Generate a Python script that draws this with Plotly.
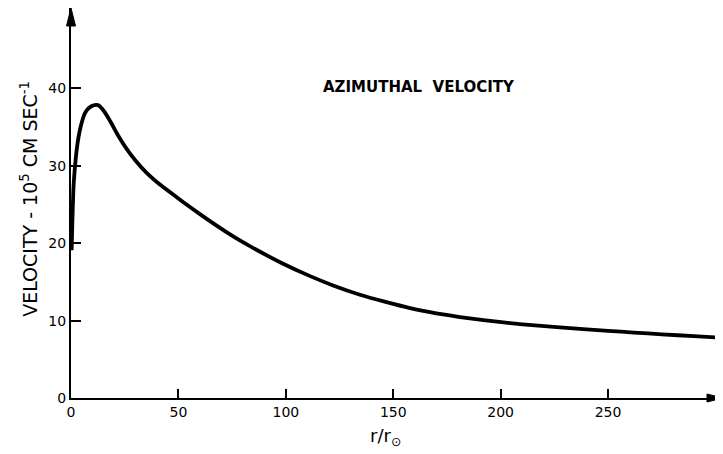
import plotly.graph_objects as go

# Data (r/r_sun, azimuthal velocity in 10^5 cm/s)
r_vals = [0.3, 0.6, 1.1, 1.7, 2.3, 3.2, 4.2, 5.3, 6.5, 8.0, 9.5, 11.0, 12.5,
          13.8, 15.5, 18.2, 22.0, 25.9, 30.0, 35.2, 42.0, 49.2, 57.0, 64.7,
          72.0, 80.2, 88.0, 97.3, 111.3, 122.0, 134.5, 146.0, 157.8, 170.0,
          181.1, 192.0, 204.4, 216.0, 227.6, 240.0, 250.0, 262.0, 275.0,
          290.0, 303.5]
v_vals = [19.1, 22.5, 26.9, 29.4, 31.2, 33.2, 34.7, 35.9, 36.8, 37.4, 37.7,
          37.85, 37.85, 37.6, 37.0, 35.8, 33.9, 32.2, 30.7, 29.1, 27.45, 25.95,
          24.35, 22.85, 21.5, 20.1, 18.9, 17.55, 15.75, 14.55, 13.35, 12.45,
          11.62, 10.95, 10.45, 10.05, 9.68, 9.38, 9.12, 8.87, 8.68, 8.46,
          8.23, 7.99, 7.78]

x_ticks = [0, 50, 100, 150, 200, 250]
y_ticks = [0, 10, 20, 30, 40]

X_MAX = 303.5
Y_MAX = 50.4

FONT = "DejaVu Sans"

fig = go.Figure()
fig.add_trace(go.Scatter(
    x=r_vals, y=v_vals, mode="lines",
    line=dict(color="black", width=3.8, shape="spline", smoothing=0.5),
    showlegend=False, hoverinfo="skip", cliponaxis=False,
))

fig.update_layout(
    width=715, height=446,
    margin=dict(l=63, r=0, t=0, b=56, autoexpand=False),
    paper_bgcolor="white", plot_bgcolor="white",
    font=dict(family=FONT, color="black"),
    xaxis=dict(
        range=[0, X_MAX], tickvals=x_ticks, ticktext=[str(t) for t in x_ticks],
        ticks="inside", ticklen=9, tickwidth=1.5, tickcolor="black",
        showline=True, linecolor="black", linewidth=2,
        showgrid=False, zeroline=False, automargin=False,
        tickfont=dict(family=FONT, size=14, color="black"),
    ),
    yaxis=dict(
        range=[0, Y_MAX], tickvals=y_ticks, ticktext=[str(t) for t in y_ticks],
        ticks="inside", ticklen=10, tickwidth=1.5, tickcolor="black",
        showline=True, linecolor="black", linewidth=2,
        showgrid=False, zeroline=False, automargin=False,
        tickfont=dict(family=FONT, size=14, color="black"),
    ),
)

# axis arrowheads (pixel-sized triangles anchored at the axis ends)
fig.add_shape(type="path", xref="paper", yref="paper", xsizemode="pixel",
              ysizemode="pixel", xanchor=0, yanchor=1,
              path="M0,0 L-4.5,-18 L4.5,-18 Z",
              fillcolor="black", line=dict(color="black", width=1))
fig.add_shape(type="path", xref="paper", yref="paper", xsizemode="pixel",
              ysizemode="pixel", xanchor=1, yanchor=0,
              path="M0,0 L-16,4 L-16,-4 Z",
              fillcolor="black", line=dict(color="black", width=1))

# chart label
fig.add_annotation(text="<b>AZIMUTHAL  VELOCITY</b>", x=0.534, y=0.797,
                   xref="paper", yref="paper", showarrow=False,
                   xanchor="center", yanchor="middle",
                   font=dict(family=FONT, size=15, color="black"))

# y-axis title
fig.add_annotation(text="VELOCITY - 10<sup>5</sup> CM SEC<sup>-1</sup>",
                   x=-0.0637, y=0.512, xref="paper", yref="paper",
                   showarrow=False, textangle=-90,
                   xanchor="center", yanchor="middle",
                   font=dict(family=FONT, size=19, color="black"))

# x-axis title
fig.add_annotation(text="r/r<sub>⊙</sub>", x=0.482, y=-0.10,
                   xref="paper", yref="paper", showarrow=False,
                   xanchor="center", yanchor="middle",
                   font=dict(family=FONT, size=18, color="black"))

fig.write_html("out.html")
